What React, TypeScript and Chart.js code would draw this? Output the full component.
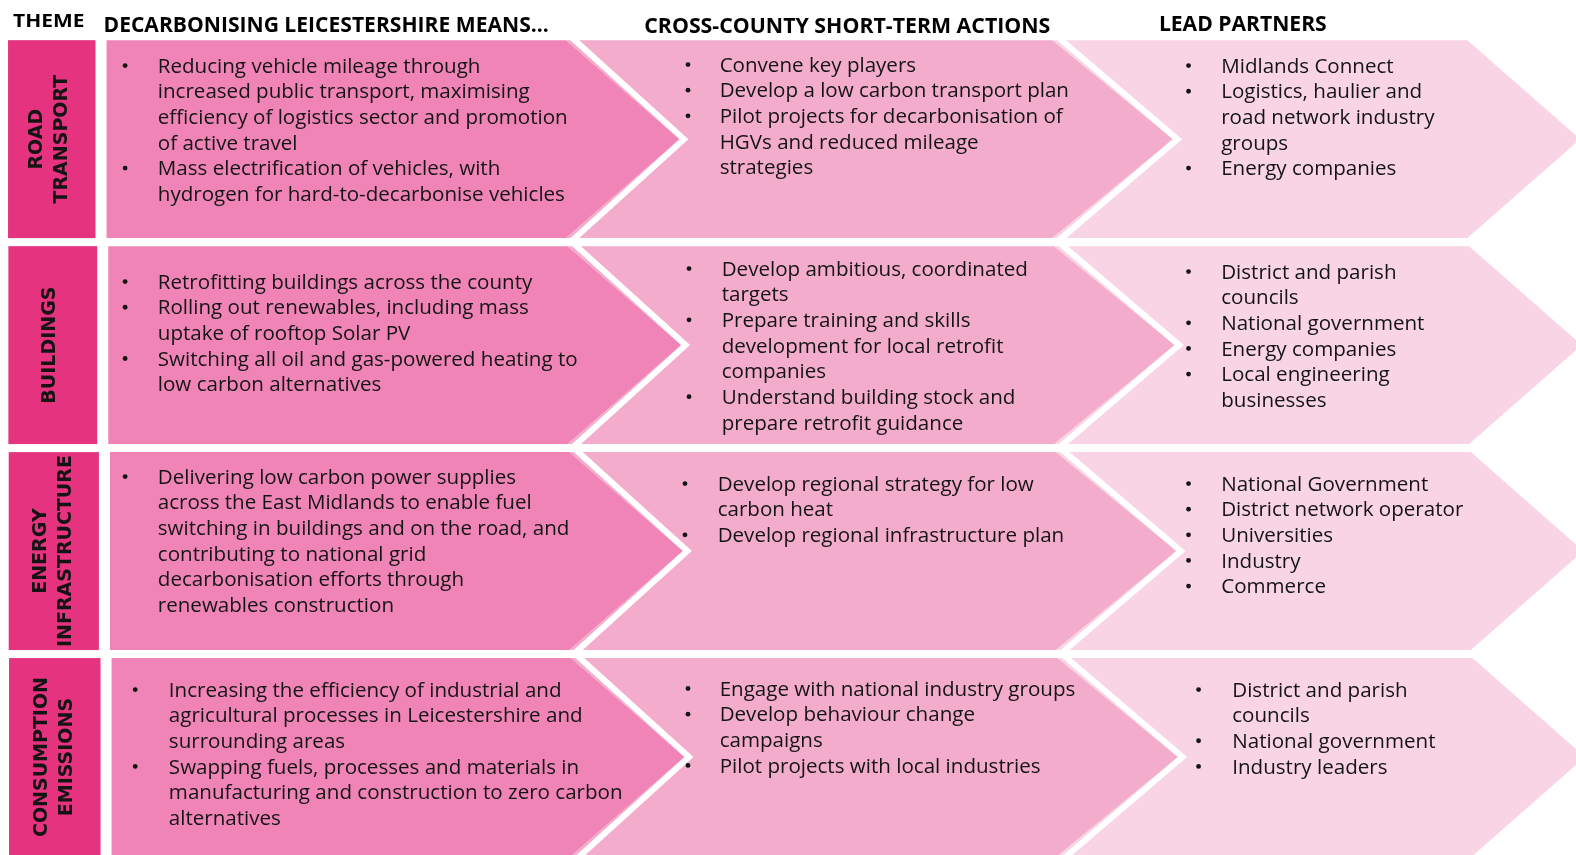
import React, { useEffect, useRef } from "react";
import { Chart, registerables } from "chart.js";

Chart.register(...registerables);

// ---------- DATA ----------
const headers = [
  "THEME",
  "DECARBONISING LEICESTERSHIRE MEANS...",
  "CROSS-COUNTY SHORT-TERM ACTIONS",
  "LEAD PARTNERS",
];

const themes = [
  "ROAD\nTRANSPORT",
  "BUILDINGS",
  "ENERGY\nINFRASTRUCTURE",
  "CONSUMPTION\nEMISSIONS",
];

const decarbonisingMeans = [
  [
    "Reducing vehicle mileage through\nincreased public transport, maximising\nefficiency of logistics sector and promotion\nof active travel",
    "Mass electrification of vehicles, with\nhydrogen for hard-to-decarbonise vehicles",
  ],
  [
    "Retrofitting buildings across the county",
    "Rolling out renewables, including mass\nuptake of rooftop Solar PV",
    "Switching all oil and gas-powered heating to\nlow carbon alternatives",
  ],
  [
    "Delivering low carbon power supplies\nacross the East Midlands to enable fuel\nswitching in buildings and on the road, and\ncontributing to national grid\ndecarbonisation efforts through\nrenewables construction",
  ],
  [
    "Increasing the efficiency of industrial and\nagricultural processes in Leicestershire and\nsurrounding areas",
    "Swapping fuels, processes and materials in\nmanufacturing and construction to zero carbon\nalternatives",
  ],
];

const shortTermActions = [
  [
    "Convene key players",
    "Develop a low carbon transport plan",
    "Pilot projects for decarbonisation of\nHGVs and reduced mileage\nstrategies",
  ],
  [
    "Develop ambitious, coordinated\ntargets",
    "Prepare training and skills\ndevelopment for local retrofit\ncompanies",
    "Understand building stock and\nprepare retrofit guidance",
  ],
  [
    "Develop regional strategy for low\ncarbon heat",
    "Develop regional infrastructure plan",
  ],
  [
    "Engage with national industry groups",
    "Develop behaviour change\ncampaigns",
    "Pilot projects with local industries",
  ],
];

const leadPartners = [
  [
    "Midlands Connect",
    "Logistics, haulier and\nroad network industry\ngroups",
    "Energy companies",
  ],
  [
    "District and parish\ncouncils",
    "National government",
    "Energy companies",
    "Local engineering\nbusinesses",
  ],
  [
    "National Government",
    "District network operator",
    "Universities",
    "Industry",
    "Commerce",
  ],
  [
    "District and parish\ncouncils",
    "National government",
    "Industry leaders",
  ],
];

// ---------- LAYOUT (reference units, 1568 x 851) ----------
const REF_W = 1568;
const REF_H = 851;
const ROW_TOP = [40, 245, 450, 655];
const ROW_H = 197;
const SHIFT = [0, 1.7, 3.4, 5];
const LINE_H = 25.5;
// [bulletCenterX, textX, firstLineCenterY] per row, per column
const CELL_POS = [
  [[124.5, 157, 65], [684.5, 716, 64], [1182.5, 1215, 65]],
  [[124.5, 157, 280], [685.5, 718, 267], [1182.5, 1215, 270]],
  [[124.5, 157, 474], [681.5, 714, 481], [1182.5, 1215, 481]],
  [[134.5, 168, 686], [684.5, 716, 685], [1192.5, 1226, 686]],
];
const HEADER_POS = [
  [13, 84, 27.3, 17.5],
  [103, 546, 31.8, 21.5],
  [641, 1045, 32.8, 21],
  [1153, 1320, 31.3, 21],
];
const THEME_CX = [49.5, 50, 53, 54.5];

const COLORS = {
  theme: "#E5337F",
  col1: "#F084B6",
  col2: "#F4ACCD",
  col3: "#F9D4E5",
  text: "#141414",
};

const BODY_FONT = '20px "Open Sans"';
const HEAD_FONT = '"Open Sans"';
const THEME_FONT = 'bold 19px "DejaVu Sans"';

const infographicPlugin = {
  id: "infographic",
  afterDraw(chart: any) {
    const ctx: CanvasRenderingContext2D = chart.ctx;
    const xs = chart.scales.x;
    const ys = chart.scales.y;
    const X = (v: number) => xs.getPixelForValue(v);
    const Y = (v: number) => ys.getPixelForValue(v);

    ctx.save();
    ctx.fillStyle = "#ffffff";
    ctx.fillRect(0, 0, chart.width, chart.height);

    const poly = (pts: number[][], color: string) => {
      ctx.beginPath();
      pts.forEach(([px, py], i) => {
        if (i === 0) ctx.moveTo(X(px), Y(py));
        else ctx.lineTo(X(px), Y(py));
      });
      ctx.closePath();
      ctx.fillStyle = color;
      ctx.fill();
    };
    const whiteEdge = (pts: number[][]) => {
      ctx.beginPath();
      pts.forEach(([px, py], i) => {
        if (i === 0) ctx.moveTo(X(px), Y(py));
        else ctx.lineTo(X(px), Y(py));
      });
      ctx.strokeStyle = "#ffffff";
      ctx.lineWidth = 6;
      ctx.lineJoin = "miter";
      ctx.stroke();
    };

    // headers
    ctx.fillStyle = "#000000";
    ctx.textBaseline = "alphabetic";
    ctx.textAlign = "left";
    headers.forEach((h, i) => {
      const [x0, x1, base, size] = HEADER_POS[i];
      ctx.font = `bold ${size}px ${HEAD_FONT}`;
      const w = ctx.measureText(h).width;
      const target = X(x1) - X(x0);
      ctx.save();
      ctx.translate(X(x0), Y(base));
      ctx.scale(target / w, 1);
      ctx.fillText(h, 0, 0);
      ctx.restore();
    });

    // body calibration (horizontal scale so reference line width matches)
    ctx.font = BODY_FONT;
    const calW = ctx.measureText(decarbonisingMeans[0][0].split("\n")[0]).width;
    const bodySx = (X(478) - X(157)) / calW;

    const columns = [decarbonisingMeans, shortTermActions, leadPartners];

    for (let r = 0; r < themes.length; r++) {
      const top = ROW_TOP[r];
      const bot = top + ROW_H;
      const mid = (top + bot) / 2;
      const s = SHIFT[r];

      // theme box
      ctx.fillStyle = COLORS.theme;
      ctx.fillRect(X(8 + s * 0.2), Y(top), X(95 + s) - X(8 + s * 0.2), Y(bot) - Y(top));

      const c1L = 106 + s, c1C = 563 + s, c1T = 676 + s;
      const c2C = 1047 + s, c2T = 1167 + s;
      const c3C = 1460 + s, c3T = 1572 + s;

      poly([[c2C, top], [c3C, top], [c3T, mid], [c3C, bot], [c2C, bot], [c2T, mid]], COLORS.col3);
      poly([[c1C, top], [c2C, top], [c2T, mid], [c2C, bot], [c1C, bot], [c1T, mid]], COLORS.col2);
      whiteEdge([[c2C + 4.5, top - 4], [c2T + 4.5, mid], [c2C + 4.5, bot + 4]]);
      poly([[c1L, top], [c1C, top], [c1T, mid], [c1C, bot], [c1L, bot]], COLORS.col1);
      whiteEdge([[c1C + 4.5, top - 4], [c1T + 4.5, mid], [c1C + 4.5, bot + 4]]);

      // theme label (rotated)
      const tLines = themes[r].split("\n");
      ctx.save();
      ctx.translate(X(THEME_CX[r]), Y(mid));
      ctx.rotate(-Math.PI / 2);
      ctx.font = THEME_FONT;
      ctx.fillStyle = COLORS.text;
      ctx.textAlign = "center";
      ctx.textBaseline = "middle";
      tLines.forEach((ln, i) => {
        ctx.fillText(ln, 0, (i - (tLines.length - 1) / 2) * 25);
      });
      ctx.restore();

      // bullets
      ctx.font = BODY_FONT;
      ctx.fillStyle = COLORS.text;
      ctx.textAlign = "left";
      ctx.textBaseline = "alphabetic";
      columns.forEach((col, c) => {
        const [bx, tx, y0] = CELL_POS[r][c];
        let line = 0;
        col[r].forEach((item) => {
          const lines = item.split("\n");
          ctx.beginPath();
          ctx.arc(X(bx), Y(y0 + line * LINE_H + 0.3), 2.4, 0, Math.PI * 2);
          ctx.fill();
          lines.forEach((ln) => {
            ctx.save();
            ctx.translate(X(tx), Y(y0 + line * LINE_H + 7.5));
            ctx.scale(bodySx, 1);
            ctx.fillText(ln, 0, 0);
            ctx.restore();
            line++;
          });
        });
      });
    }
    ctx.restore();
  },
};

export default function App() {
  const ref = useRef<HTMLCanvasElement | null>(null);
  useEffect(() => {
    document.body.style.margin = "0";
    document.body.style.overflow = "hidden";
    const canvas = ref.current;
    if (!canvas) return;
    const chart = new Chart(canvas, {
      type: "scatter",
      data: { datasets: [{ data: [] }] },
      options: {
        animation: false,
        responsive: false,
        maintainAspectRatio: false,
        devicePixelRatio: 1,
        layout: { padding: 0 },
        plugins: { legend: { display: false }, tooltip: { enabled: false } },
        scales: {
          x: { type: "linear", min: 0, max: REF_W, display: false },
          y: { type: "linear", min: 0, max: REF_H, reverse: true, display: false },
        },
      },
      plugins: [infographicPlugin],
    });
    return () => chart.destroy();
  }, []);
  return (
    <canvas
      ref={ref}
      width={1576}
      height={855}
      style={{ display: "block", width: "1576px", height: "855px" }}
    />
  );
}
